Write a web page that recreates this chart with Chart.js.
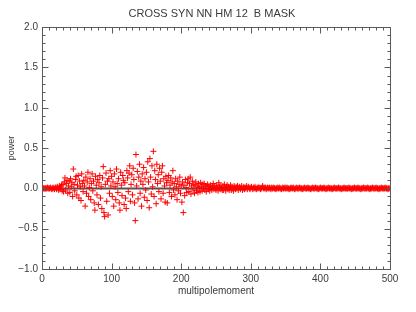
<!DOCTYPE html>
<html>
<head>
<meta charset="utf-8">
<title>CROSS SYN NN HM 12 B MASK</title>
<script src="https://cdn.jsdelivr.net/npm/chart.js@4"></script>
<style>
  html, body { margin: 0; padding: 0; background: #fff; }
  #wrap { width: 416px; height: 312px; }
</style>
</head>
<body>
<div id="wrap"><canvas id="powerChart" width="416" height="312"></canvas></div>
<script>
// ========== DATA ========== //
const chartTitle = 'CROSS SYN NN HM 12  B MASK';
const xLabel = 'multipolemoment';
const yLabel = 'power';
const xRange = [0, 500];
const yRange = [-1, 2];
const refLevel = 0; // grey reference line

// power per multipole, l = 0..99
const powerLow = [
  0.00, 0.00, 0.00, 0.00, 0.00, 0.00, 0.00, 0.00, 0.01, 0.00,
  0.00, 0.00, 0.01, 0.00, -0.01, 0.00, 0.01, 0.00, -0.01, 0.01,
  0.01, -0.01, 0.02, 0.00, -0.02, 0.03, -0.01, 0.02, 0.04, -0.03,
  0.05, -0.04, 0.08, 0.13, -0.02, 0.06, 0.10, -0.06, 0.03, 0.09,
  -0.05, 0.12, 0.02, 0.07, -0.10, 0.24, 0.05, -0.03, 0.11, 0.15,
  -0.08, 0.04, 0.16, -0.12, 0.09, 0.02, -0.15, 0.18, 0.06, -0.04,
  0.10, 0.03, -0.22, 0.14, -0.06, 0.08, 0.20, -0.10, 0.01, 0.12,
  -0.14, 0.06, 0.18, -0.03, 0.09, -0.18, -0.27, 0.15, 0.04, -0.08,
  0.11, -0.20, 0.07, 0.16, -0.12, 0.02, -0.25, 0.13, 0.27, -0.30,
  -0.35, 0.05, 0.19, -0.16, 0.09, -0.33, 0.12, -0.06, 0.22, 0.03
];
// l = 100..199
const powerMid = [
  0.15, -0.10, 0.08, -0.22, 0.18, 0.02, -0.14, 0.24, 0.06, -0.05,
  0.12, -0.18, -0.27, 0.20, 0.04, -0.09, 0.16, 0.10, -0.20, 0.07,
  -0.12, -0.25, 0.22, 0.13, -0.04, 0.19, 0.28, -0.16, 0.05, 0.17,
  -0.08, 0.25, 0.11, -0.18, -0.40, 0.42, 0.03, 0.21, -0.13, 0.14,
  0.30, -0.06, 0.09, -0.22, 0.18, 0.05, 0.26, -0.11, 0.12, -0.02,
  0.20, -0.15, 0.33, 0.08, -0.24, 0.37, 0.14, -0.07, 0.28, 0.02,
  0.46, -0.10, 0.22, 0.11, -0.19, 0.30, 0.06, 0.17, -0.04, 0.25,
  0.09, -0.13, 0.20, 0.28, -0.06, 0.12, 0.03, -0.17, 0.15, 0.07,
  -0.18, 0.10, 0.16, -0.05, 0.04, 0.13, -0.10, 0.08, 0.22, -0.02,
  0.06, -0.08, 0.12, 0.02, -0.14, 0.09, -0.03, 0.05, 0.14, -0.06
];
// l = 200..299
const powerHigh = [
  0.03, -0.17, 0.08, -0.30, 0.04, -0.09, 0.11, 0.01, -0.05, 0.07,
  0.12, -0.04, 0.06, 0.14, -0.07, 0.03, 0.09, -0.02, 0.05, -0.06,
  0.04, 0.08, -0.03, 0.02, -0.05, 0.06, 0.01, -0.04, 0.07, 0.02,
  -0.03, 0.05, 0.00, 0.06, -0.02, 0.03, -0.04, 0.02, 0.05, -0.01,
  0.03, -0.03, 0.04, 0.01, -0.02, 0.02, 0.06, -0.01, 0.03, 0.00,
  -0.02, 0.04, 0.01, -0.03, 0.07, 0.02, -0.01, 0.03, 0.00, -0.02,
  0.03, -0.02, 0.05, 0.01, -0.03, 0.02, 0.04, -0.01, 0.02, -0.02,
  0.01, 0.04, -0.02, 0.02, 0.00, -0.03, 0.03, 0.01, -0.01, 0.02,
  0.00, 0.03, -0.02, 0.01, 0.02, -0.01, 0.01, 0.03, -0.02, 0.00,
  0.02, -0.01, 0.01, 0.00, 0.03, -0.01, 0.01, 0.02, 0.00, -0.01
];
// l = 300..499
const powerTail = [
  0.01, 0.02, 0.00, -0.01, 0.01, 0.00, 0.02, 0.00, -0.01, 0.01,
  0.00, 0.01, 0.00, 0.01, -0.01, 0.00, 0.01, 0.03, 0.00, 0.01,
  0.00, 0.01, -0.01, 0.00, 0.01, 0.00, 0.00, 0.01, 0.00, -0.01,
  0.01, 0.00, 0.00, 0.01, 0.00, 0.00, -0.01, 0.00, 0.01, 0.00,
  0.00, 0.01, 0.00, 0.00, -0.01, 0.00, 0.01, 0.00, 0.00, 0.01,
  0.00, 0.00, 0.01, 0.00, 0.00, -0.01, 0.00, 0.00, 0.01, 0.00,
  0.00, 0.01, 0.00, -0.01, 0.00, 0.00, 0.01, 0.00, 0.00, 0.00,
  0.01, 0.00, 0.00, 0.00, -0.01, 0.00, 0.00, 0.01, 0.00, 0.00,
  0.00, 0.00, 0.01, 0.00, 0.00, 0.00, -0.01, 0.00, 0.00, 0.01,
  0.00, 0.00, 0.00, 0.01, 0.00, 0.00, 0.00, -0.01, 0.00, 0.00,
  0.01, 0.00, 0.00, 0.00, 0.00, 0.01, 0.00, 0.00, -0.01, 0.00,
  0.00, 0.00, 0.01, 0.00, 0.00, 0.00, 0.00, -0.01, 0.00, 0.00,
  0.01, 0.00, 0.00, 0.00, 0.00, 0.00, 0.01, 0.00, 0.00, 0.00,
  -0.01, 0.00, 0.00, 0.00, 0.01, 0.00, 0.00, 0.00, 0.00, 0.00,
  0.00, 0.01, 0.00, 0.00, 0.00, -0.01, 0.00, 0.00, 0.00, 0.01,
  0.00, 0.00, 0.00, 0.00, 0.01, 0.00, 0.00, 0.00, -0.01, 0.00,
  0.00, 0.00, 0.01, 0.00, 0.00, 0.00, 0.00, 0.00, 0.01, 0.00,
  0.00, -0.01, 0.00, 0.00, 0.00, 0.01, 0.00, 0.00, 0.00, 0.00,
  0.01, 0.00, 0.00, 0.00, -0.01, 0.00, 0.00, 0.00, 0.01, 0.00,
  0.00, 0.00, 0.00, 0.01, 0.00, 0.00, 0.00, -0.01, 0.00, 0.00
];

// ========== BUILD POINTS ========== //
const power = [...powerLow, ...powerMid, ...powerHigh, ...powerTail];
const points = power.map((v, l) => ({x: xRange[0] + l, y: v}));

const textColor = '#3a3a3a';
const fontFamily = '"Liberation Sans", Arial, sans-serif';

// IDL-style box with inward ticks on all four sides
const boxTicks = {
  id: 'boxTicks',
  afterDraw(chart) {
    const {ctx, chartArea: a, scales: {x, y}} = chart;
    const L = Math.round(a.left) + 0.5, R = Math.round(a.right) + 0.5;
    const T = Math.round(a.top) + 0.5, B = Math.round(a.bottom) + 0.5;
    ctx.save();
    ctx.strokeStyle = '#5a5a5a';
    ctx.lineWidth = 1;
    ctx.strokeRect(L, T, R - L, B - T);
    ctx.beginPath();
    for (let i = 0; i <= 50; i++) {
      const px = Math.round(x.getPixelForValue(i * 10)) + 0.5;
      const len = i % 10 === 0 ? 6 : 3;
      ctx.moveTo(px, B); ctx.lineTo(px, B - len);
      ctx.moveTo(px, T); ctx.lineTo(px, T + len);
    }
    for (let i = -10; i <= 20; i++) {
      const py = Math.round(y.getPixelForValue(i / 10)) + 0.5;
      const len = i % 5 === 0 ? 6 : 3;
      ctx.moveTo(L, py); ctx.lineTo(L + len, py);
      ctx.moveTo(R, py); ctx.lineTo(R - len, py);
    }
    ctx.stroke();
    ctx.restore();
  }
};

// ========== CHART ========== //
new Chart(document.getElementById('powerChart'), {
  type: 'scatter',
  data: {
    datasets: [
      {
        label: 'power',
        data: points,
        pointStyle: 'cross',
        pointRadius: 3,
        pointHoverRadius: 3,
        borderColor: 'rgb(255,0,0)',
        backgroundColor: 'rgb(255,0,0)',
        pointBorderWidth: 1,
        showLine: false,
        order: 1
      },
      {
        type: 'line',
        label: 'reference',
        data: [{x: xRange[0], y: refLevel}, {x: xRange[1], y: refLevel}],
        borderColor: '#555',
        borderWidth: 2,
        pointRadius: 0,
        order: 2
      }
    ]
  },
  options: {
    responsive: false,
    animation: false,
    devicePixelRatio: 1,
    layout: {padding: {left: 8, right: 0, top: 0, bottom: 0}},
    plugins: {
      legend: {display: false},
      tooltip: {enabled: false},
      title: {
        display: true,
        text: chartTitle,
        color: textColor,
        font: {family: fontFamily, size: 11, weight: 'normal'},
        padding: {top: 7, bottom: 7}
      }
    },
    scales: {
      x: {
        type: 'linear',
        min: xRange[0],
        max: xRange[1],
        grid: {display: false, drawTicks: false},
        border: {display: false},
        ticks: {
          stepSize: 100,
          color: textColor,
          padding: 4,
          maxRotation: 0,
          font: {family: fontFamily, size: 10}
        },
        title: {
          display: true,
          text: xLabel,
          color: textColor,
          font: {family: fontFamily, size: 10},
          padding: {top: 0, bottom: 15}
        },
        afterFit(scale) { scale.height = 43; }
      },
      y: {
        type: 'linear',
        position: 'left',
        min: yRange[0],
        max: yRange[1],
        grid: {display: false, drawTicks: false},
        border: {display: false},
        ticks: {
          stepSize: 0.5,
          color: textColor,
          padding: 4,
          font: {family: fontFamily, size: 10},
          callback: v => (v < 0 ? '\u2212' : '') + Math.abs(v).toFixed(1)
        },
        title: {
          display: true,
          text: yLabel,
          color: textColor,
          font: {family: fontFamily, size: 9},
          padding: {top: -2, bottom: 0}
        },
        afterFit(scale) { scale.width = 34; }
      },
      yRight: {
        type: 'linear',
        position: 'right',
        min: yRange[0],
        max: yRange[1],
        grid: {display: false, drawTicks: false},
        border: {display: false},
        ticks: {display: false},
        afterFit(scale) { scale.width = 26; }
      }
    }
  },
  plugins: [boxTicks]
});
</script>
</body>
</html>
